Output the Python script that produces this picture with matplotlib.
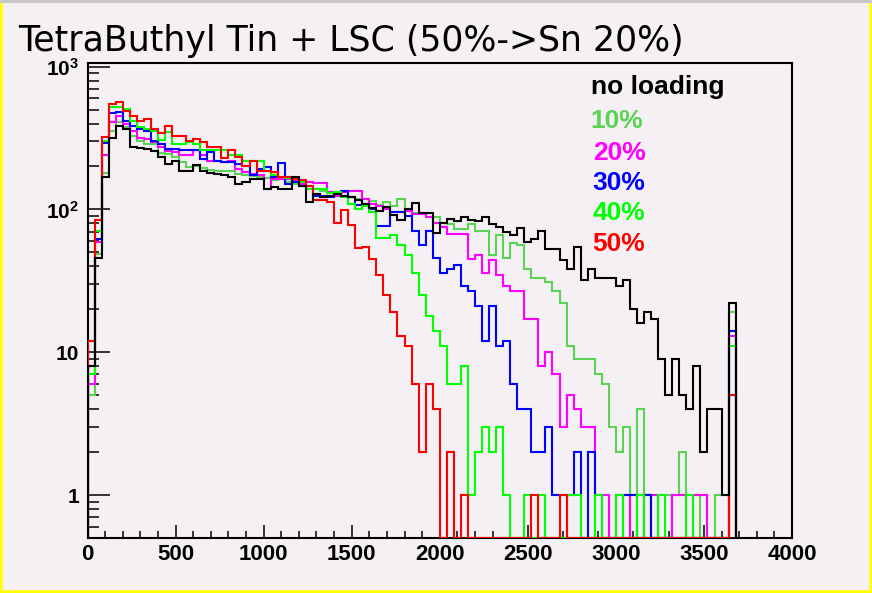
import matplotlib
matplotlib.use("Agg")
import matplotlib.pyplot as plt
from matplotlib.patches import Rectangle
from matplotlib.ticker import FixedLocator, NullFormatter
import numpy as np

# 40-channel bins, last filled bin is the pile-up spike at 3640-3680
BIN_WIDTH = 40
bin_edges = np.arange(0, 3681, BIN_WIDTH)

no_loading = [
    8, 46, 168, 317, 387, 367, 276, 270, 266, 256,
    232, 209, 220, 187, 187, 205, 185, 180, 178, 173,
    170, 151, 155, 164, 164, 140, 143, 140, 140, 168,
    145, 112, 128, 122, 124, 129, 125, 123, 116, 110,
    102, 97, 104, 91, 84, 101, 111, 94, 94, 68,
    80, 86, 83, 89, 84, 83, 89, 79, 75, 69,
    66, 74, 59, 62, 71, 53, 53, 44, 38, 55,
    32, 38, 33, 33, 33, 29, 32, 20, 16, 19,
    17, 9, 5, 9, 5, 4, 8, 2, 4, 4,
    1, 22]
load_10 = [
    5, 49, 180, 357, 408, 376, 329, 304, 288, 288,
    250, 245, 232, 215, 198, 200, 195, 190, 187, 187,
    185, 178, 175, 172, 170, 165, 160, 165, 155, 150,
    148, 140, 138, 135, 132, 128, 125, 122, 118, 110,
    115, 108, 112, 105, 119, 100, 95, 93, 88, 88,
    81, 79, 73, 73, 79, 71, 71, 48, 66, 46,
    58, 56, 38, 33, 33, 31, 27, 22, 11, 9,
    9, 9, 7, 6, 3, 2, 3, 1, 4, 1,
    0, 1, 1, 1, 2, 1, 0, 1, 0, 1,
    1, 19]
load_20 = [
    6, 59, 239, 408, 454, 398, 357, 317, 312, 296,
    272, 256, 252, 239, 239, 259, 239, 220, 220, 214,
    220, 193, 183, 178, 173, 140, 164, 164, 164, 160,
    151, 155, 153, 153, 133, 125, 133, 134, 134, 118,
    110, 105, 100, 96, 96, 98, 93, 93, 88, 80,
    75, 67, 67, 67, 45, 48, 36, 44, 35, 29,
    27, 27, 17, 17, 8, 10, 7, 3, 5, 4,
    3, 3, 1, 1, 0, 1, 1, 0, 1, 0,
    1, 0, 0, 1, 1, 0, 1, 1, 0, 0,
    0, 13]
load_30 = [
    8, 62, 290, 472, 479, 419, 387, 367, 353, 304,
    288, 266, 266, 261, 261, 261, 227, 252, 220, 214,
    214, 209, 202, 173, 193, 198, 168, 210, 151, 155,
    147, 147, 125, 125, 122, 128, 135, 122, 107, 110,
    100, 77, 77, 96, 96, 90, 71, 56, 71, 46,
    36, 38, 41, 29, 27, 21, 12, 21, 11, 12,
    6, 4, 4, 2, 2, 3, 1, 1, 1, 2,
    0, 2, 0, 0, 0, 0, 1, 1, 0, 1,
    0, 0, 0, 0, 0, 0, 0, 0, 0, 0,
    0, 14]
load_40 = [
    7, 71, 300, 519, 519, 506, 419, 376, 367, 353,
    309, 347, 288, 288, 296, 288, 261, 259, 259, 259,
    239, 239, 220, 217, 220, 187, 173, 168, 166, 164,
    155, 140, 140, 139, 130, 132, 122, 110, 100, 105,
    96, 63, 63, 66, 56, 48, 36, 25, 18, 14,
    11, 6, 6, 8, 1, 2, 3, 2, 3, 1,
    0, 0, 1, 0, 1, 0, 0, 0, 1, 1,
    0, 0, 1, 0, 0, 1, 0, 0, 1, 0,
    0, 1, 0, 0, 0, 1, 0, 0, 0, 0,
    0, 11]
load_50 = [
    12, 84, 320, 549, 562, 492, 454, 414, 431, 367,
    341, 382, 329, 329, 304, 312, 296, 272, 272, 228,
    259, 232, 202, 220, 187, 187, 183, 168, 168, 164,
    160, 147, 117, 117, 112, 80, 99, 78, 54, 55,
    45, 35, 25, 19, 13, 11, 6, 2, 6, 4,
    0, 2, 0, 1, 0, 0, 0, 0, 0, 0,
    0, 0, 0, 1, 0, 0, 0, 1, 0, 0,
    0, 0, 0, 0, 0, 0, 0, 0, 0, 0,
    0, 0, 0, 0, 0, 0, 0, 0, 0, 0,
    0, 5]

labels = ["no loading", "10%", "20%", "30%", "40%", "50%"]
colors = ["black", "#5ad354", "#ff00ff", "#0000ff", "#00ff00", "#ff0000"]
histos = [no_loading, load_10, load_20, load_30, load_40, load_50]

title = "TetraButhyl Tin + LSC (50%->Sn 20%)"

W, H = 872, 593
BG = "#f4f0f4"
YMIN, YMAX = 0.5, 1070

plt.rcParams["mathtext.fontset"] = "custom"
plt.rcParams["mathtext.rm"] = "Liberation Sans"
plt.rcParams["mathtext.bf"] = "Liberation Sans:bold"

fig = plt.figure(figsize=(W / 100, H / 100), dpi=100, facecolor=BG)


def px(x, y):
    return x / W, 1 - y / H


ax = fig.add_axes([87.5 / W, (H - 538) / H, (792 - 87.5) / W, (538 - 62.5) / H])
ax.set_facecolor(BG)

# loaded samples first, reference sample on top
order = [1, 2, 3, 4, 5, 0]
for i in order:
    v = np.asarray(histos[i], dtype=float)
    # empty bins lie on the x axis
    v = np.where(v > 0, v, YMIN)
    ax.stairs(v, bin_edges, baseline=YMIN, color=colors[i], lw=1.5, zorder=3)

ax.set_yscale("log")
ax.set_xlim(0, 4000)
ax.set_ylim(YMIN, YMAX)

for s in ax.spines.values():
    s.set_linewidth(1.5)

ax.xaxis.set_major_locator(FixedLocator(np.arange(0, 4001, 500)))
ax.xaxis.set_minor_locator(FixedLocator(np.arange(0, 4001, 100)))
ax.set_xticklabels([str(v) for v in range(0, 4001, 500)])

ymajor = [1, 10, 100, 1000]
yminor = [0.6, 0.7, 0.8, 0.9] + [m * d for d in (1, 10, 100) for m in range(2, 10)]
ax.yaxis.set_major_locator(FixedLocator(ymajor))
ax.yaxis.set_minor_locator(FixedLocator(yminor))
ax.yaxis.set_minor_formatter(NullFormatter())
ax.set_yticklabels(["1", "10", r"$\mathbf{10^{2}}$", r"$\mathbf{10^{3}}$"])

ax.tick_params(axis="x", which="major", direction="in", length=9.5, width=1.1, pad=4)
ax.tick_params(axis="x", which="minor", direction="in", length=4.7, width=1.1)
ax.tick_params(axis="y", which="major", direction="in", length=16, width=1.1, pad=6)
ax.tick_params(axis="y", which="minor", direction="in", length=8, width=1.1)
for t in ax.get_xticklabels():
    t.set_fontfamily("Liberation Sans")
    t.set_fontweight("bold")
    t.set_fontsize(16)
for t in ax.get_yticklabels():
    t.set_fontfamily("Liberation Sans")
    t.set_fontweight("bold")
    t.set_fontsize(15)

# legend written as coloured labels
legend_pos = [(590.7, 94.3), (590.7, 128.3), (592.7, 160), (592.7, 190), (592.7, 220), (592.7, 250.7)]
for lab, col, (lx, ly) in zip(labels, colors, legend_pos):
    fig.text(*px(lx, ly), lab, color=col, fontsize=19, fontweight="bold",
             family="Liberation Sans", va="baseline", ha="left")

fig.text(*px(18, 51), title, fontsize=25, family="DejaVu Sans", va="baseline", ha="left")

# window border
fig.patches.append(Rectangle((0, 0), 1, 1, transform=fig.transFigure, fill=False,
                             edgecolor="#ffff00", lw=4, zorder=10))
fig.patches.append(Rectangle(px(0, 3), 1, 3 / H, transform=fig.transFigure,
                             facecolor="#c8c8c8", edgecolor="none", zorder=11))

fig.savefig("out.png", dpi=100, facecolor=BG)
